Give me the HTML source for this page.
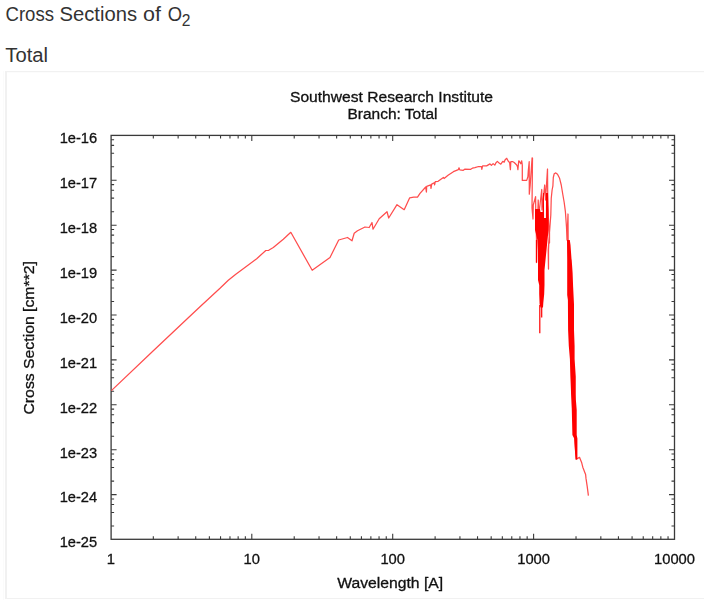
<!DOCTYPE html>
<html><head><meta charset="utf-8"><title>Cross Sections of O2</title>
<style>
html,body{margin:0;padding:0;background:#fff;width:704px;height:600px;overflow:hidden}
body{position:relative;font-family:"Liberation Sans",sans-serif;color:#333}
h1{position:absolute;left:5.3px;top:4.3px;margin:0;font-size:19.6px;letter-spacing:0.18px;font-weight:normal;line-height:20px;white-space:nowrap}
h1 sub{font-size:16.4px;letter-spacing:0;position:relative;top:4.6px;vertical-align:baseline;line-height:0;margin-left:-1.2px}
h2{position:absolute;left:5px;top:44.8px;margin:0;font-size:20px;letter-spacing:0.25px;font-weight:normal;line-height:20px}
.box{position:absolute;left:4.8px;top:70.5px;width:720px;height:528.8px;border:2.2px solid #f1f1f1;border-top-width:1.8px;border-bottom-width:1.9px;box-sizing:border-box}
.box::after{content:'';position:absolute;left:0;right:0;top:0.8px;height:1.1px;background:#fcfcfc}
.fl{position:absolute;left:3px;top:71px;width:0.8px;height:529px;background:#fbfbfb}
</style></head><body>
<h1 style="position:absolute;left:-9999px">Cross Sections of O2</h1>
<div class="fl"></div><div class="box"></div>
<svg width="704" height="600" viewBox="0 0 704 600" style="position:absolute;left:0;top:0"><rect x="111.1" y="135.4" width="563.40" height="403.90" fill="none" stroke="#3a3a3a" stroke-width="1.3"/><path d="M153.32 539.3v-3M153.32 135.4v3M178.13 539.3v-3M178.13 135.4v3M195.73 539.3v-3M195.73 135.4v3M209.38 539.3v-3M209.38 135.4v3M220.54 539.3v-3M220.54 135.4v3M229.97 539.3v-3M229.97 135.4v3M238.15 539.3v-3M238.15 135.4v3M245.35 539.3v-3M245.35 135.4v3M251.80 539.3v-5.5M251.80 135.4v5.5M294.22 539.3v-3M294.22 135.4v3M319.03 539.3v-3M319.03 135.4v3M336.63 539.3v-3M336.63 135.4v3M350.28 539.3v-3M350.28 135.4v3M361.44 539.3v-3M361.44 135.4v3M370.87 539.3v-3M370.87 135.4v3M379.05 539.3v-3M379.05 135.4v3M386.25 539.3v-3M386.25 135.4v3M392.70 539.3v-5.5M392.70 135.4v5.5M435.12 539.3v-3M435.12 135.4v3M459.93 539.3v-3M459.93 135.4v3M477.53 539.3v-3M477.53 135.4v3M491.18 539.3v-3M491.18 135.4v3M502.34 539.3v-3M502.34 135.4v3M511.77 539.3v-3M511.77 135.4v3M519.95 539.3v-3M519.95 135.4v3M527.15 539.3v-3M527.15 135.4v3M533.60 539.3v-5.5M533.60 135.4v5.5M576.02 539.3v-3M576.02 135.4v3M600.83 539.3v-3M600.83 135.4v3M618.43 539.3v-3M618.43 135.4v3M632.08 539.3v-3M632.08 135.4v3M643.24 539.3v-3M643.24 135.4v3M652.67 539.3v-3M652.67 135.4v3M660.85 539.3v-3M660.85 135.4v3M668.05 539.3v-3M668.05 135.4v3M111.1 525.98h3M674.5 525.98h-3M111.1 512.47h3M674.5 512.47h-3M111.1 504.56h3M674.5 504.56h-3M111.1 498.95h3M674.5 498.95h-3M111.1 494.60h5.5M674.5 494.60h-5.5M111.1 481.08h3M674.5 481.08h-3M111.1 467.57h3M674.5 467.57h-3M111.1 459.66h3M674.5 459.66h-3M111.1 454.05h3M674.5 454.05h-3M111.1 449.70h5.5M674.5 449.70h-5.5M111.1 436.18h3M674.5 436.18h-3M111.1 422.67h3M674.5 422.67h-3M111.1 414.76h3M674.5 414.76h-3M111.1 409.15h3M674.5 409.15h-3M111.1 404.80h5.5M674.5 404.80h-5.5M111.1 391.28h3M674.5 391.28h-3M111.1 377.77h3M674.5 377.77h-3M111.1 369.86h3M674.5 369.86h-3M111.1 364.25h3M674.5 364.25h-3M111.1 359.90h5.5M674.5 359.90h-5.5M111.1 346.38h3M674.5 346.38h-3M111.1 332.87h3M674.5 332.87h-3M111.1 324.96h3M674.5 324.96h-3M111.1 319.35h3M674.5 319.35h-3M111.1 315.00h5.5M674.5 315.00h-5.5M111.1 301.48h3M674.5 301.48h-3M111.1 287.97h3M674.5 287.97h-3M111.1 280.06h3M674.5 280.06h-3M111.1 274.45h3M674.5 274.45h-3M111.1 270.10h5.5M674.5 270.10h-5.5M111.1 256.58h3M674.5 256.58h-3M111.1 243.07h3M674.5 243.07h-3M111.1 235.16h3M674.5 235.16h-3M111.1 229.55h3M674.5 229.55h-3M111.1 225.20h5.5M674.5 225.20h-5.5M111.1 211.68h3M674.5 211.68h-3M111.1 198.17h3M674.5 198.17h-3M111.1 190.26h3M674.5 190.26h-3M111.1 184.65h3M674.5 184.65h-3M111.1 180.30h5.5M674.5 180.30h-5.5M111.1 166.78h3M674.5 166.78h-3M111.1 153.27h3M674.5 153.27h-3M111.1 145.36h3M674.5 145.36h-3M111.1 139.75h3M674.5 139.75h-3" stroke="#3a3a3a" stroke-width="1.1" fill="none"/><g font-family="Liberation Sans, sans-serif" fill="#333"><text x="5.50" y="21.00" font-size="19.6" text-anchor="start" textLength="48.50" lengthAdjust="spacingAndGlyphs">Cross</text><text x="59.50" y="21.00" font-size="19.6" text-anchor="start" textLength="77.50" lengthAdjust="spacingAndGlyphs">Sections</text><text x="143.10" y="21.00" font-size="19.6" text-anchor="start" textLength="17.90" lengthAdjust="spacingAndGlyphs">of</text><text x="167.70" y="21.00" font-size="19.6" text-anchor="start" textLength="14.30" lengthAdjust="spacingAndGlyphs">O</text><text x="181.70" y="25.60" font-size="16.4" text-anchor="start" textLength="8.70" lengthAdjust="spacingAndGlyphs">2</text><text x="5.30" y="61.70" font-size="20" text-anchor="start" textLength="42.70" lengthAdjust="spacingAndGlyphs">Total</text></g><polyline points="111.4,390.6 153.3,350.8 170,335 186.7,319.2 200,306.7 210,297.5 220,288.3 228.3,280.3 235.8,274.2 248.3,265 256.7,258.7 265.8,250.5 268.7,250.3 273.3,247.5 283.3,239.2 290.8,232.3 312.2,270.3 330,257.5 338.7,240 347.5,237.5 352,240.8 354.2,233.3 357.5,230.8 365,227 369.2,227.5 372,222.5 373,229.2 379.2,218.7 387,211.7 388.7,218 397,204.7 404.2,209.7 409.7,197.8 413.7,197.2 417.5,197.2 420,193.4 425.7,187 426.4,192 426.7,186.3 430.7,184.9 431,188.4 431.7,184.1 434.2,182.7 434.6,184.9 435.3,181.7 438.1,181.3 443.4,177.4 444.1,178.5 448.05,175.3 453.4,171.7 458.35,169.6 459,167.8 459.8,169.9 463.3,170.3 464.7,169.2 470.7,169.3 472.4,168.2 474.9,167.6 478.6,166.5 481.5,166.5 481.8,169.3 482.6,165.9 486.6,165.9 490,163.9 491.4,165.4 493.1,163.6 494.8,165.1 496,162.8 497.4,161.4 499.1,163.1 500.8,164.2 502.8,161.4 504.2,162.2 505,160 506.7,158.3 508.3,161.25 509.6,162.5 510.4,169.6 510.8,161.7 512.9,161.7 514.2,162.5 516.7,165 517.5,166.7 517.9,169.6 518.75,160.8 519.6,161.7 520.8,163.75 521.7,160.8 522.3,165 522.3,180.4 526.7,180.4 527.9,176.7 528.3,170.8 529.2,161.7 529.3,194.2 530.2,185 531.25,170 532.1,157.9 532.5,158 532,208 533,219 533.3,205 535.6,196.7 535.8,215 536.5,240 536.5,262.5 537,240 538.2,200 538.8,215 541.75,189.5 542,210 544.7,185 545.5,200 547.5,169 547.8,205 549.5,243 549.5,230 548.5,250 548.5,269 548.2,250 550.8,215 551.25,198.3 552.1,190 552.9,185.8 553.3,177.5 554.2,173.75 555.8,172.9 557.5,174.2 559.6,178.3 561.25,185 562.9,195 564.2,202.5 565.4,211.7 566.5,227 567,240 568,214 568.2,245 570,300 572,400 576.3,459.4 577.6,458.4 579.6,457.4 581.6,462.4 582.8,467.2 585.6,474.4 586,478.4 587.2,486.4 588.4,495.6" fill="none" stroke="#ff4d4d" stroke-width="1.25" stroke-linejoin="round"/><polyline points="539.8,305 539.8,333.2" fill="none" stroke="#ff0000" stroke-width="1.2"/><polyline points="541.7,305 541.7,317.6" fill="none" stroke="#ff0000" stroke-width="1.2"/><polyline points="536.5,240 536.5,262.5" fill="none" stroke="#ff0000" stroke-width="1.2"/><polygon points="535,209 540,209 540.5,212 542.6,212 543,193 543.9,193 544.1,218 545.9,218 546,193 548,193 548.5,210 548.5,230 547.5,240 546.5,250 545.5,260 544.5,270 544.5,285 544.2,294 543.3,303 543,307.5 540.5,307.5 539.6,304 539.2,294 539.2,285 538,280 538,250 537.5,240 535,230 535,220" fill="#ff0000"/><polygon points="567,240 567.2,260 567.2,295 567.9,300 568.1,330 568.8,346 569.9,359 570.4,376.6 571.1,394 571.6,400 571.8,410 572.4,435 574.2,438.5 575.1,453.6 575.6,459.5 577.4,459 577.4,438.5 576.7,435 576.7,410 575.9,400 575.75,394 575.75,376.6 574.6,359 574.6,346 574,330 574,304.3 573.1,286.3 572.6,272.8 571.7,260 571.5,259 570.5,245 569.8,240" fill="#ff0000"/></svg>
<svg width="704" height="600" viewBox="0 0 704 600" style="position:absolute;left:0;top:0;will-change:transform"><g font-family="Liberation Sans, sans-serif" fill="#111" stroke="#111" stroke-width="0.3"><text x="97.20" y="143.30" font-size="14.7" text-anchor="end" textLength="37.50" lengthAdjust="spacingAndGlyphs">1e-16</text><text x="97.20" y="188.19" font-size="14.7" text-anchor="end" textLength="37.50" lengthAdjust="spacingAndGlyphs">1e-17</text><text x="97.20" y="233.08" font-size="14.7" text-anchor="end" textLength="37.50" lengthAdjust="spacingAndGlyphs">1e-18</text><text x="97.20" y="277.97" font-size="14.7" text-anchor="end" textLength="37.50" lengthAdjust="spacingAndGlyphs">1e-19</text><text x="97.20" y="322.86" font-size="14.7" text-anchor="end" textLength="37.50" lengthAdjust="spacingAndGlyphs">1e-20</text><text x="97.20" y="367.75" font-size="14.7" text-anchor="end" textLength="37.50" lengthAdjust="spacingAndGlyphs">1e-21</text><text x="97.20" y="412.64" font-size="14.7" text-anchor="end" textLength="37.50" lengthAdjust="spacingAndGlyphs">1e-22</text><text x="97.20" y="457.53" font-size="14.7" text-anchor="end" textLength="37.50" lengthAdjust="spacingAndGlyphs">1e-23</text><text x="97.20" y="502.42" font-size="14.7" text-anchor="end" textLength="37.50" lengthAdjust="spacingAndGlyphs">1e-24</text><text x="97.20" y="547.31" font-size="14.7" text-anchor="end" textLength="37.50" lengthAdjust="spacingAndGlyphs">1e-25</text><text x="110.90" y="563.90" font-size="14.7" text-anchor="middle" textLength="8.20" lengthAdjust="spacingAndGlyphs">1</text><text x="251.80" y="563.90" font-size="14.7" text-anchor="middle" textLength="16.40" lengthAdjust="spacingAndGlyphs">10</text><text x="392.70" y="563.90" font-size="14.7" text-anchor="middle" textLength="24.60" lengthAdjust="spacingAndGlyphs">100</text><text x="533.60" y="563.90" font-size="14.7" text-anchor="middle" textLength="32.80" lengthAdjust="spacingAndGlyphs">1000</text><text x="674.50" y="563.90" font-size="14.7" text-anchor="middle" textLength="41.00" lengthAdjust="spacingAndGlyphs">10000</text><text x="391.50" y="102.20" font-size="14.7" text-anchor="middle" textLength="203.00" lengthAdjust="spacingAndGlyphs">Southwest Research Institute</text><text x="392.50" y="118.50" font-size="14.7" text-anchor="middle" textLength="90.00" lengthAdjust="spacingAndGlyphs">Branch: Total</text><text x="390.20" y="588.10" font-size="14.7" text-anchor="middle" textLength="106.00" lengthAdjust="spacingAndGlyphs">Wavelength [A]</text><g transform="translate(33.70 337.80) rotate(-90)"><text x="0" y="0" font-size="14.7" text-anchor="middle" textLength="153.50" lengthAdjust="spacingAndGlyphs">Cross Section [cm**2]</text></g></g></svg>
</body></html>
